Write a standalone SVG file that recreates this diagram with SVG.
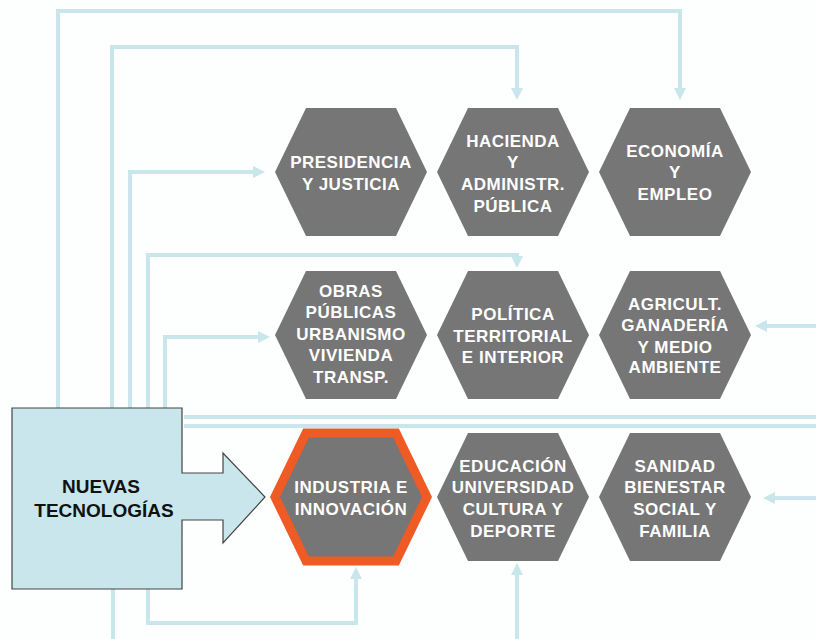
<svg xmlns="http://www.w3.org/2000/svg" width="816" height="639" viewBox="0 0 816 639">
<style>
.ln{fill:none;stroke:#c8e6eb;stroke-width:4;}
.hex{fill:#767676;}
.ht{font-family:"Liberation Sans",Arial,sans-serif;font-weight:bold;font-size:17px;letter-spacing:0.5px;fill:#ffffff;text-anchor:middle;}
.bt{font-family:"Liberation Sans",Arial,sans-serif;font-weight:bold;font-size:19px;fill:#111111;text-anchor:middle;}
</style>
<defs>
<marker id="ah" viewBox="0 0 12 12" refX="2" refY="6" markerWidth="12" markerHeight="12" markerUnits="userSpaceOnUse" orient="auto">
<path d="M0,0 L12,6 L0,12 z" fill="#c8e6eb"/>
</marker>
<polygon id="hx" points="-76,0 -45,-64 45,-64 76,0 45,64 -45,64"/>
</defs>
<rect width="816" height="639" fill="#fdfefe"/>
<g id="connectors">
<path class="ln" d="M58,408 V11 H680 V90" marker-end="url(#ah)"/>
<path class="ln" d="M112,408 V47 H517 V90" marker-end="url(#ah)"/>
<path class="ln" d="M130,408 V172 H255" marker-end="url(#ah)"/>
<path class="ln" d="M148,408 V255 H517 V258" marker-end="url(#ah)"/>
<path class="ln" d="M165,408 V337 H260" marker-end="url(#ah)"/>
<path class="ln" d="M184,417 H816"/>
<path class="ln" d="M184,426 H816"/>
<path class="ln" d="M816,326 H765" marker-end="url(#ah)"/>
<path class="ln" d="M816,498 H773" marker-end="url(#ah)"/>
<path class="ln" d="M113,589 V639"/>
<path class="ln" d="M148,589 V623 H356 V577" marker-end="url(#ah)"/>
<path class="ln" d="M517,639 V573" marker-end="url(#ah)"/>
</g>
<g id="nuevas">
<polygon points="12,408 182,408 182,473 223,473 223,453 265,497 223,543 223,520 182,520 182,589 12,589" fill="#c8e6ec" stroke="#444" stroke-width="1.2"/>
<text class="bt" x="101" y="493">NUEVAS</text>
<text class="bt" x="104" y="517">TECNOLOGÍAS</text>
</g>
<g id="presidencia" transform="translate(351,172)">
<use href="#hx" class="hex"/>
<text class="ht" y="-4">PRESIDENCIA</text>
<text class="ht" y="18">Y JUSTICIA</text>
</g>
<g id="hacienda" transform="translate(513,172)">
<use href="#hx" class="hex"/>
<text class="ht" y="-25">HACIENDA</text>
<text class="ht" y="-4">Y</text>
<text class="ht" y="18">ADMINISTR.</text>
<text class="ht" y="40">PÚBLICA</text>
</g>
<g id="economia" transform="translate(675,172)">
<use href="#hx" class="hex"/>
<text class="ht" y="-15">ECONOMÍA</text>
<text class="ht" y="6">Y</text>
<text class="ht" y="28">EMPLEO</text>
</g>
<g id="obras" transform="translate(351,335)">
<use href="#hx" class="hex"/>
<text class="ht" y="-38">OBRAS</text>
<text class="ht" y="-17">PÚBLICAS</text>
<text class="ht" y="5">URBANISMO</text>
<text class="ht" y="26">VIVIENDA</text>
<text class="ht" y="48">TRANSP.</text>
</g>
<g id="politica" transform="translate(513,335)">
<use href="#hx" class="hex"/>
<text class="ht" y="-15">POLÍTICA</text>
<text class="ht" y="7">TERRITORIAL</text>
<text class="ht" y="28">E INTERIOR</text>
</g>
<g id="agricultura" transform="translate(675,335)">
<use href="#hx" class="hex"/>
<text class="ht" y="-25">AGRICULT.</text>
<text class="ht" y="-4">GANADERÍA</text>
<text class="ht" y="18">Y MEDIO</text>
<text class="ht" y="38">AMBIENTE</text>
</g>
<g id="industria" transform="translate(351,497)">
<use href="#hx" class="hex" stroke="#f05a24" stroke-width="9" stroke-linejoin="miter"/>
<text class="ht" y="-4">INDUSTRIA E</text>
<text class="ht" y="18">INNOVACIÓN</text>
</g>
<g id="educacion" transform="translate(513,497)">
<use href="#hx" class="hex"/>
<text class="ht" y="-25">EDUCACIÓN</text>
<text class="ht" y="-4">UNIVERSIDAD</text>
<text class="ht" y="18">CULTURA Y</text>
<text class="ht" y="40">DEPORTE</text>
</g>
<g id="sanidad" transform="translate(675,497)">
<use href="#hx" class="hex"/>
<text class="ht" y="-25">SANIDAD</text>
<text class="ht" y="-4">BIENESTAR</text>
<text class="ht" y="18">SOCIAL Y</text>
<text class="ht" y="40">FAMILIA</text>
</g>
</svg>
